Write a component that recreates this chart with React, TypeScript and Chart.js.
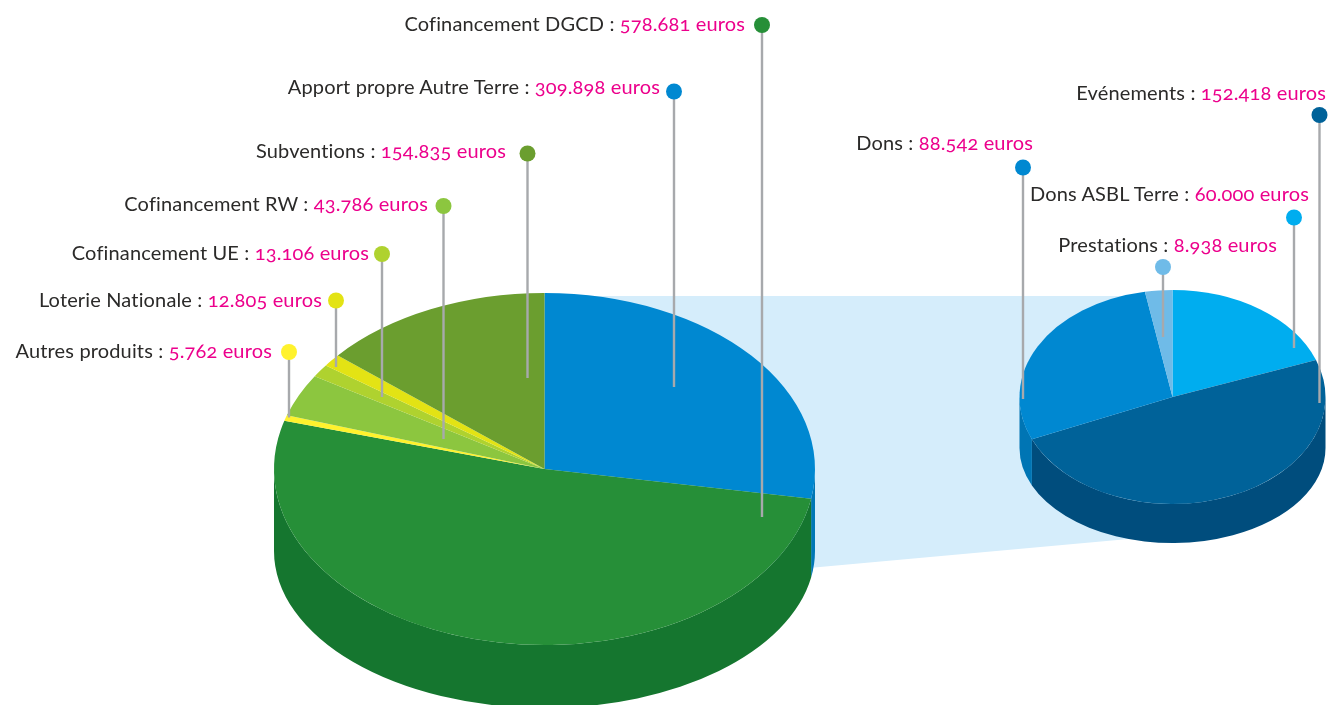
import React, { useEffect, useRef } from "react";
import { Chart, registerables } from "chart.js";

Chart.register(...registerables);

// ---- data ----
const mainCategories = ["Apport propre Autre Terre", "Cofinancement DGCD", "Autres produits", "Cofinancement RW", "Cofinancement UE", "Loterie Nationale", "Subventions"];
const mainValues = [309898, 578681, 5762, 43786, 13106, 12805, 154835];
const mainColors = ["#0088d1", "#268f38", "#fff22d", "#8cc63f", "#afd22f", "#e3e314", "#6b9e2f"];
const mainSideColors = ["#0077b5", "#15762f", "#d8cd20", "#74a632", "#93b127", "#c0c010", "#588527"];

const detailCategories = ["Dons ASBL Terre", "Evénements", "Dons", "Prestations"];
const detailValues = [60000, 152418, 88542, 8938];
const detailColors = ["#00adef", "#006299", "#0088d1", "#6fbbe8"];
const detailSideColors = ["#0093cc", "#004d7d", "#0075b4", "#5ea0c6"];

// ---- layout ----
const W = 1328;
const H = 705;
const mainPie = { cx: 544.5, cy: 469, rx: 270.5, ry: 176, baseCy: 551, baseRy: 157 };
const detailPie = { cx: 1172.5, cy: 397, rx: 153, ry: 107, baseCy: 448, baseRy: 95 };
const BAND = "#d5edfb";
const LEADER = "#a7a9ac";
const FONT = "Lato, 'Open Sans', sans-serif";

// dot x, dot y, leader end y, label right edge, label baseline
const mainCallouts = [
  [674, 91.5, 387, 660, 92],
  [762, 25, 517, 745, 29],
  [289, 352, 417.5, 272, 356],
  [443.5, 206, 439, 428, 209],
  [382, 254, 397, 369, 258],
  [336, 300.5, 367, 322, 305],
  [527.5, 153.5, 378, 506, 156],
];
const detailCallouts = [
  [1294, 217.5, 348, 1309, 199],
  [1319.5, 115, 403, 1326, 98],
  [1023, 167.5, 399, 1033, 148],
  [1163, 267, 337, 1277, 250],
];

const euros = (v: number) => String(v).replace(/\B(?=(\d{3})+$)/g, ".") + " euros";

function pie3dPlugin(pie: typeof mainPie, sides: string[], colors: string[], callouts: number[][], band: boolean) {
  return {
    id: "pie3d",
    beforeDraw(chart: any) {
      if (!band) return;
      const c = chart.ctx;
      c.save();
      c.fillStyle = BAND;
      c.beginPath();
      c.moveTo(pie.cx, 296);
      c.lineTo(detailPie.cx, 296);
      c.lineTo(detailPie.cx, 535);
      c.lineTo(pie.cx, 592);
      c.closePath();
      c.fill();
      c.restore();
    },
    beforeDatasetsDraw(chart: any) {
      const c = chart.ctx;
      const arcs = chart.getDatasetMeta(0).data;
      const TAU = Math.PI * 2;
      arcs.forEach((arc: any, i: number) => {
        for (let k = -1; k <= 1; k++) {
          const a = Math.max(arc.startAngle + k * TAU, 0);
          const b = Math.min(arc.endAngle + k * TAU, Math.PI);
          if (a >= b) continue;
          c.fillStyle = sides[i];
          c.beginPath();
          c.ellipse(arc.x, pie.cy, pie.rx, pie.ry, 0, a, b);
          c.ellipse(arc.x, pie.baseCy, pie.rx, pie.baseRy, 0, b, a, true);
          c.closePath();
          c.fill();
        }
      });
      c.save();
      c.translate(0, pie.cy);
      c.scale(1, pie.ry / pie.rx);
      c.translate(0, -pie.cy);
    },
    afterDatasetsDraw(chart: any) {
      const c = chart.ctx;
      c.restore();
      callouts.forEach((p, i) => {
        c.strokeStyle = LEADER;
        c.lineWidth = 2.4;
        c.beginPath();
        c.moveTo(p[0], p[1]);
        c.lineTo(p[0], p[2]);
        c.stroke();
        c.fillStyle = colors[i];
        c.beginPath();
        c.arc(p[0], p[1], 8, 0, Math.PI * 2);
        c.fill();
      });
    },
  };
}

function makeChart(canvas: HTMLCanvasElement, labels: string[], values: number[], colors: string[], sides: string[], pie: typeof mainPie, callouts: number[][], band: boolean) {
  return new Chart(canvas, {
    type: "pie",
    data: { labels, datasets: [{ data: values, backgroundColor: colors, borderWidth: 0, clip: false } as any] },
    options: {
      responsive: false,
      animation: false,
      events: [],
      radius: pie.rx,
      layout: {
        padding: {
          left: Math.max(0, 2 * pie.cx - W),
          right: Math.max(0, W - 2 * pie.cx),
          top: Math.max(0, 2 * pie.cy - H),
          bottom: Math.max(0, H - 2 * pie.cy),
        },
      },
      plugins: { legend: { display: false }, tooltip: { enabled: false } },
    } as any,
    plugins: [pie3dPlugin(pie, sides, colors, callouts, band)],
  });
}

function Label({ name, value, at }: { name: string; value: number; at: number[] }) {
  return (
    <div
      style={{
        position: "absolute",
        right: W - at[3],
        top: at[4] - 20,
        height: 28,
        whiteSpace: "pre",
        font: `20px/28px ${FONT}`,
        letterSpacing: "0.15px",
        fontVariantNumeric: "oldstyle-nums",
        color: "#2b2a29",
      }}
    >
      {name} : <span style={{ color: "#ec008c" }}>{euros(value)}</span>
    </div>
  );
}

export default function App() {
  const a = useRef<HTMLCanvasElement>(null);
  const b = useRef<HTMLCanvasElement>(null);
  useEffect(() => {
    const c1 = makeChart(a.current!, mainCategories, mainValues, mainColors, mainSideColors, mainPie, mainCallouts, true);
    const c2 = makeChart(b.current!, detailCategories, detailValues, detailColors, detailSideColors, detailPie, detailCallouts, false);
    return () => {
      c1.destroy();
      c2.destroy();
    };
  }, []);
  const layer: React.CSSProperties = { position: "absolute", left: 0, top: 0, display: "block" };
  return (
    <div style={{ position: "fixed", left: 0, top: 0, width: W, height: H, overflow: "hidden", background: "#fff" }}>
      <canvas ref={a} width={W} height={H} style={layer} />
      <canvas ref={b} width={W} height={H} style={layer} />
      {mainCategories.map((n, i) => <Label key={n} name={n} value={mainValues[i]} at={mainCallouts[i]} />)}
      {detailCategories.map((n, i) => <Label key={n} name={n} value={detailValues[i]} at={detailCallouts[i]} />)}
    </div>
  );
}
